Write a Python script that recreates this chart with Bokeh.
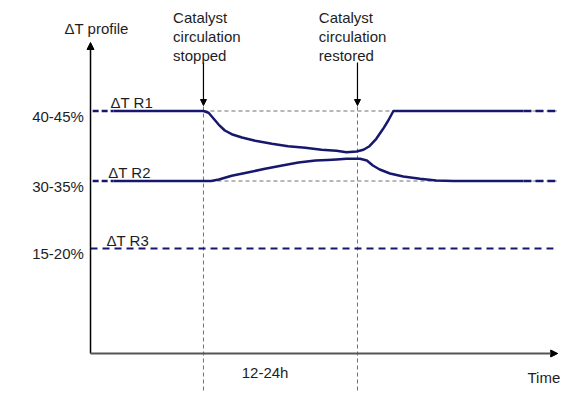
from bokeh.plotting import figure
from bokeh.models import Range1d, Arrow, NormalHead, Label, ColumnDataSource
from bokeh.embed import file_html
from bokeh.resources import INLINE
from bokeh.core.properties import value

# ---------------- data (schematic units: time in h, level in plot units) ----------------
series_names = ["ΔT R1", "ΔT R2", "ΔT R3"]
level_labels = ["40-45%", "30-35%", "15-20%"]
levels = [24.25, 17.25, 10.5]
t_stop = 13.2
t_restore = 31.2
t_start = 0.0
t_end = 54.3
duration_label = "12-24h"
x_title = "Time"
y_title = "ΔT profile"
stop_text = ["Catalyst", "circulation", "stopped"]
restore_text = ["Catalyst", "circulation", "restored"]

r1_t = [2.7, 13.2, 13.8, 14.4, 15.0, 15.7, 16.5, 17.7, 19.25, 21.2, 23.1, 25.1, 27.0, 28.75,
        29.9, 31.1, 31.9, 32.6, 33.4, 34.2, 34.8, 35.4, 50.6]
r1_dT = [24.25, 24.25, 24.07, 23.47, 22.87, 22.3, 21.93, 21.6, 21.27, 20.97, 20.73, 20.57, 20.37, 20.27,
         20.13, 20.2, 20.37, 20.73, 21.47, 22.47, 23.3, 24.25, 24.25]
r2_t = [2.7, 13.2, 14.1, 15.0, 16.5, 18.5, 20.4, 22.4, 24.3, 26.3, 27.7, 28.75, 29.9, 31.5,
        32.3, 33.0, 33.8, 35.0, 36.55, 38.5, 40.4, 42.4, 50.6]
r2_dT = [17.25, 17.25, 17.25, 17.4, 17.77, 18.13, 18.47, 18.8, 19.1, 19.3, 19.35, 19.4, 19.47, 19.47,
         19.3, 18.8, 18.4, 18.0, 17.7, 17.47, 17.3, 17.25, 17.25]

# ---------------- styling ----------------
NAVY = "#17176e"
GREY = "#707070"
TXT = "#1e1e1e"
FONT = "Liberation Sans"
FS = "15px"

p = figure(width=588, height=395, x_range=Range1d(-10.52, 58.2), y_range=Range1d(-4.2, 35.3),
           x_axis_type=None, y_axis_type=None, toolbar_location=None,
           output_backend="svg", min_border=0)
p.outline_line_color = None
p.background_fill_color = "white"
p.border_fill_color = "white"

# grey reference lines
for lv in levels[:2]:
    p.line([t_stop, t_end + 0.2], [lv, lv], line_color=GREY, line_width=1, line_dash="4 3")
for te in (t_stop, t_restore):
    p.line([te, te], [-3.7, levels[0] + 0.6], line_color=GREY, line_width=1, line_dash="4 3")

# profiles
p.line(r1_t, r1_dT, line_color=NAVY, line_width=2.5, line_join="round")
p.line(r2_t, r2_dT, line_color=NAVY, line_width=2.5, line_join="round")
for lv, t0, t1 in ((levels[0], r1_t[0], r1_t[-1]), (levels[1], r2_t[0], r2_t[-1])):
    p.line([0.25, t0], [lv, lv], line_color=NAVY, line_width=2.5, line_dash="6 3")
    p.line([t1, t_end], [lv, lv], line_color=NAVY, line_width=2.5, line_dash="8 4")
p.line([t_start, t_end - 0.2], [levels[2], levels[2]], line_color=NAVY, line_width=2.2, line_dash="7 5")

# axes with arrow heads
p.add_layout(Arrow(x_start=0, y_start=0, x_end=0, y_end=31.1, line_color="black", line_width=1.5,
                   end=NormalHead(size=7, fill_color="black", line_color="black")))
p.add_layout(Arrow(x_start=0, y_start=0, x_end=54.6, y_end=0, line_color="#555555", line_width=1.8,
                   end=NormalHead(size=7, fill_color="black", line_color="black")))

# event arrows
for te in (t_stop, t_restore):
    p.add_layout(Arrow(x_start=te, y_start=29.1, x_end=te, y_end=24.8, line_color="black", line_width=1.2,
                       end=NormalHead(size=6, fill_color="black", line_color="black")))

# tick labels on y
src = ColumnDataSource(dict(x=[-0.78] * 3, y=[lv - 0.54 for lv in levels], t=level_labels))
p.text(x="x", y="y", text="t", source=src, text_align="right", text_baseline="alphabetic",
       text_font=value(FONT), text_font_size=FS, text_color=TXT)

# series labels
src2 = ColumnDataSource(dict(x=[2.34, 2.07, 1.87], y=[lv + 0.85 for lv in levels], t=series_names))
p.text(x="x", y="y", text="t", source=src2, text_align="left", text_baseline="alphabetic",
       text_font=value(FONT), text_font_size=FS, text_color=TXT)

def lab(x, y, text, align="left"):
    p.add_layout(Label(x=x, y=y, text=text, text_font=FONT, text_font_size=FS, text_color=TXT,
                       text_align=align, text_baseline="alphabetic"))

lab(-3.04, 32.47, y_title)
lab(54.9, -2.4, x_title, "right")
lab((t_stop + t_restore) / 2 - 1.8, -1.93, duration_label, "center")
for i, s in enumerate(stop_text):
    lab(t_stop - 3.55, 33.63 - 1.93 * i, s)
for i, s in enumerate(restore_text):
    lab(t_restore - 4.52, 33.63 - 1.93 * i, s)

open("out.html", "w").write(file_html(p, INLINE))
